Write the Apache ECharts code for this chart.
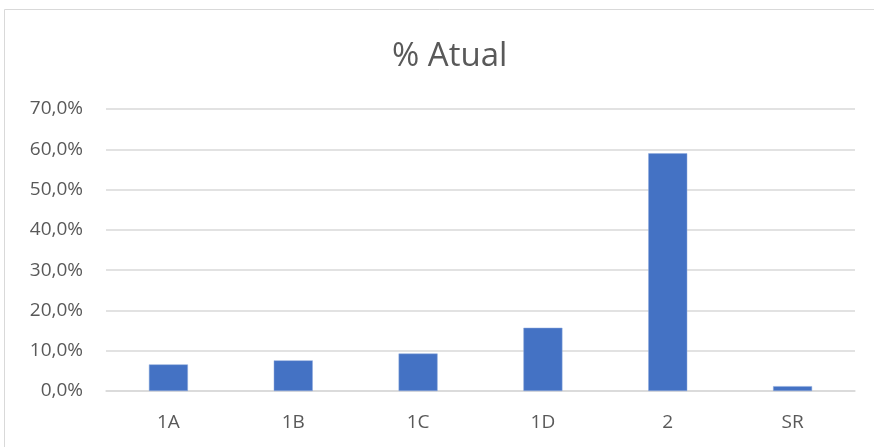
<!DOCTYPE html>
<html>
<head>
<meta charset="utf-8">
<script src="https://cdn.jsdelivr.net/npm/echarts@6/dist/echarts.min.js"></script>
<style>
html, body { margin: 0; padding: 0; background: #fff; }
#chart { width: 874px; height: 447px; }
</style>
</head>
<body>
<div id="chart"></div>
<script>
var titleText = '% Atual';
var categories = ['1A', '1B', '1C', '1D', '2', 'SR'];
var values = [6.6, 7.6, 9.3, 15.7, 59.0, 1.2];
var yTicks = { min: 0, max: 70, interval: 10 };

var chart = echarts.init(document.getElementById('chart'));
var option = {
	animation: false,
	textStyle: { fontFamily: 'Open Sans, Noto Sans, sans-serif' },
	graphic: [{
		type: 'polyline',
		shape: { points: [[4.5, 447], [4.5, 9.5], [874, 9.5]] },
		style: { stroke: '#d9d9d9', lineWidth: 1, fill: null },
		silent: true
	}],
	title: {
		text: titleText,
		left: 387,
		top: 35,
		textStyle: { color: '#595959', fontSize: 33, fontWeight: 'normal', fontFamily: 'Open Sans, sans-serif' }
	},
	grid: { left: 106, right: 19, top: 109, bottom: 56 },
	xAxis: {
		type: 'category',
		data: categories,
		axisLine: { lineStyle: { color: '#d9d9d9', width: 1.5 } },
		axisTick: { show: false },
		axisLabel: { color: '#595959', fontSize: 19, margin: 22 }
	},
	yAxis: {
		type: 'value',
		min: yTicks.min,
		max: yTicks.max,
		interval: yTicks.interval,
		axisLine: { show: false },
		axisTick: { show: false },
		splitLine: { lineStyle: { color: '#d9d9d9', width: 1.5 } },
		axisLabel: {
			color: '#595959',
			fontSize: 19,
			margin: 23,
			formatter: function(v) {
				return v.toFixed(1).replace('.', ',') + '%';
			}
		}
	},
	series: [{
		type: 'bar',
		data: values,
		barWidth: 39,
		itemStyle: { color: '#4472c4', borderColor: '#8faadc', borderWidth: 0.5 }
	}]
};
chart.setOption(option);
</script>
</body>
</html>
